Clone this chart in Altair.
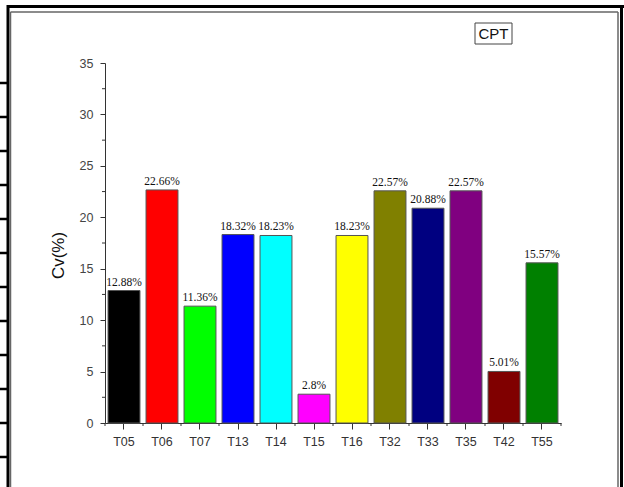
import altair as alt
import pandas as pd

# Coefficient of variation per sample
tags = ["T05", "T06", "T07", "T13", "T14", "T15", "T16", "T32", "T33", "T35", "T42", "T55"]
cv = [12.88, 22.66, 11.36, 18.32, 18.23, 2.8, 18.23, 22.57, 20.88, 22.57, 5.01, 15.57]
bar_colors = ["#000000", "#FF0000", "#00FF00", "#0000FF", "#00FFFF", "#FF00FF",
              "#FFFF00", "#808000", "#000080", "#800080", "#800000", "#008000"]
series_name = "CPT"
y_major = [0, 5, 10, 15, 20, 25, 30, 35]
y_minor = [2.5, 7.5, 12.5, 17.5, 22.5, 27.5, 32.5]

df = pd.DataFrame({"tag": tags, "cv": cv})
df["label"] = [f"{v:g}%" for v in cv]

W, H = 456, 360
PAD_L, PAD_T = 105, 63

x_scale = alt.Scale(domain=tags, paddingInner=0.16, paddingOuter=0.08)
y_scale = alt.Scale(domain=[0, 35], nice=False)

base = alt.Chart(df)

bars = base.mark_bar(stroke="#555555", strokeWidth=1).encode(
    x=alt.X("tag:N", sort=tags, scale=x_scale,
            axis=alt.Axis(title=None, labelAngle=0, tickSize=6, labelPadding=6,
                          labelFontSize=12.5, labelColor="#333333", labelFont="Liberation Sans",
                          domainColor="#333333", tickColor="#333333", grid=False)),
    y=alt.Y("cv:Q", scale=y_scale,
            axis=alt.Axis(values=y_major, tickSize=5, labelPadding=7, labelFontSize=12.5,
                          labelColor="#444444", labelFont="Liberation Sans",
                          domainColor="#333333", tickColor="#333333", grid=False,
                          title="Cv(%)", titleFont="Liberation Sans", titleFontSize=17,
                          titleFontWeight="normal", titleColor="#111111",
                          titleX=-38, titleY=192)),
    color=alt.Color("tag:N", scale=alt.Scale(domain=tags, range=bar_colors), legend=None),
)

labels = base.mark_text(font="Liberation Serif", fontSize=11.5, color="#111111",
                        baseline="bottom", dy=-3).encode(
    x=alt.X("tag:N", sort=tags, scale=x_scale),
    y=alt.Y("cv:Q", scale=y_scale),
    text="label:N",
)

# minor ticks on the value axis
minor_y = alt.Chart(pd.DataFrame({"m": y_minor})).mark_rule(color="#333333", strokeWidth=1).encode(
    y=alt.Y("m:Q", scale=y_scale),
    x=alt.value(-3), x2=alt.value(0),
)

# short ticks at the category band boundaries
edge_ticks = base.mark_rule(color="#333333", strokeWidth=1, xOffset=-19).encode(
    x=alt.X("tag:N", sort=tags, scale=x_scale),
    y=alt.value(H), y2=alt.value(H + 3),
)
end_tick = alt.Chart(pd.DataFrame({"a": [0]})).mark_rule(color="#333333", strokeWidth=1).encode(
    x=alt.value(W), y=alt.value(H), y2=alt.value(H + 3),
)

def rule(x1, x2, y1, y2, color, width):
    return alt.Chart(pd.DataFrame({"a": [0]})).mark_rule(color=color, strokeWidth=width).encode(
        x=alt.value(x1 - PAD_L), x2=alt.value(x2 - PAD_L),
        y=alt.value(y1 - PAD_T), y2=alt.value(y2 - PAD_T),
    )

frame = [
    rule(7, 624, 6.5, 6.5, "#000000", 3),
    rule(8, 8, 5, 487, "#000000", 3),
    rule(621.5, 621.5, 5, 487, "#000000", 3),
    rule(10.5, 618, 12, 12, "#666666", 1.5),
    rule(10.5, 10.5, 12, 487, "#666666", 1.5),
    rule(618, 618, 12, 487, "#666666", 1.5),
]
for k in range(12):
    yy = 83 + 34 * k
    frame.append(rule(0, 8, yy, yy, "#000000", 2.5))

box = alt.Chart(pd.DataFrame({"a": [0]})).mark_rect(fill="white", stroke="#444444", strokeWidth=1).encode(
    x=alt.value(475 - PAD_L), x2=alt.value(512 - PAD_L),
    y=alt.value(23 - PAD_T), y2=alt.value(44 - PAD_T),
)
box_text = alt.Chart(pd.DataFrame({"name": [series_name]})).mark_text(
    font="Liberation Sans", fontSize=15, color="#111111", align="center", baseline="middle"
).encode(
    x=alt.value(493.5 - PAD_L), y=alt.value(34 - PAD_T), text="name:N",
)

chart = alt.layer(
    bars, labels, minor_y, edge_ticks, end_tick, *frame, box, box_text
).properties(
    width=W, height=H,
    autosize=alt.AutoSizeParams(type="none"),
    padding={"left": PAD_L, "top": PAD_T, "right": 624 - PAD_L - W, "bottom": 487 - PAD_T - H},
    background="white",
).configure_view(strokeWidth=0)

chart.save("out.html", embed_options={"renderer": "svg", "actions": False})
